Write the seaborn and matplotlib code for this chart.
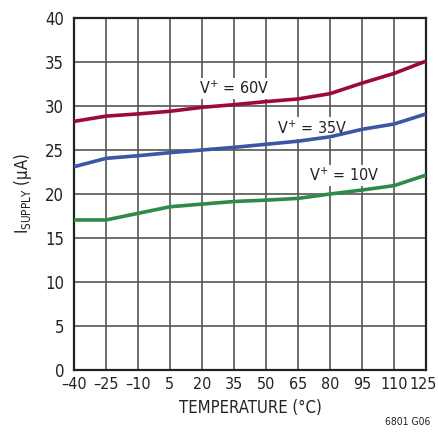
import matplotlib
matplotlib.use("Agg")
import matplotlib.pyplot as plt
import matplotlib.font_manager as fm
import matplotlib.transforms as mtransforms
import pandas as pd
import seaborn as sns

# Supply current vs. temperature for three supply voltages
temperature = [-40, -25, -10, 5, 20, 35, 50, 65, 80, 95, 110, 125]
i_60v = [28.25, 28.85, 29.1, 29.4, 29.85, 30.15, 30.5, 30.8, 31.4, 32.6, 33.7, 35.1]
i_35v = [23.1, 24.05, 24.35, 24.7, 25.0, 25.3, 25.65, 26.0, 26.5, 27.35, 27.95, 29.1]
i_10v = [17.05, 17.05, 17.8, 18.55, 18.85, 19.15, 19.3, 19.5, 20.0, 20.45, 20.95, 22.15]

series_names = ["V$^{+}$ = 60V", "V$^{+}$ = 35V", "V$^{+}$ = 10V"]
x_tick_labels = ["\u201340", "\u201325", "\u201310", "5", "20", "35", "50", "65", "80", "95", "110", "125"]
y_ticks = [0, 5, 10, 15, 20, 25, 30, 35, 40]

df = pd.DataFrame({
    "temp": temperature * 3,
    "isupply": i_60v + i_35v + i_10v,
    "series": [series_names[0]] * 12 + [series_names[1]] * 12 + [series_names[2]] * 12,
})

sns.set_style("white")

# Prefer a narrow sans face if one is available
narrow = [f for f in fm.fontManager.ttflist
          if ("Narrow" in f.name or "Condensed" in f.name or "condensed" in str(f.stretch))
          and "Bold" not in f.fname and "Italic" not in f.fname and "Oblique" not in f.fname]
if narrow:
    family = narrow[0].name
    stretch = narrow[0].stretch
else:
    family, stretch = "Liberation Sans", "normal"
plt.rcParams["font.family"] = [family, "DejaVu Sans"]
plt.rcParams["font.stretch"] = stretch
plt.rcParams["mathtext.default"] = "regular"
plt.rcParams["mathtext.fontset"] = "custom"
plt.rcParams["mathtext.rm"] = family

fs = 12 if narrow else 11
fs_note = fs - 0.5

fig = plt.figure(figsize=(4.38, 4.36), dpi=100)
ax = fig.add_axes([74 / 438, 66 / 436, 352 / 438, 352 / 436])

palette = {series_names[0]: "#9c0a35", series_names[1]: "#3a56a5", series_names[2]: "#2e8a4b"}
sns.lineplot(data=df, x="temp", y="isupply", hue="series", palette=palette,
             linewidth=2.6, legend=False, ax=ax, zorder=3)
for ln in ax.get_lines():
    ln.set_solid_joinstyle("round")
    ln.set_solid_capstyle("butt")

ax.set_xlim(-40, 125)
ax.set_ylim(0, 40)
ax.set_xticks(temperature)
ax.set_xticklabels(x_tick_labels)
ax.set_yticks(y_ticks)
ax.grid(True, color="#555555", linewidth=1.2)
ax.set_axisbelow(True)
for s in ax.spines.values():
    s.set_color("#222222")
    s.set_linewidth(1.6)
ax.tick_params(axis="both", length=0, colors="#222222")
ax.tick_params(axis="x", pad=5, labelsize=fs - 0.5)
ax.tick_params(axis="y", pad=7, labelsize=fs)

# Nudge the last temperature label inward so it stays inside the figure
last = ax.get_xticklabels()[-1]
last.set_transform(last.get_transform() + mtransforms.ScaledTranslation(-3 / 100, 0, fig.dpi_scale_trans))

ax.set_xlabel("TEMPERATURE (\u00b0C)", fontsize=fs, color="#222222", labelpad=5)
ax.set_ylabel("I$_{SUPPLY}$ (\u00b5A)", fontsize=fs, color="#222222", labelpad=8)

# Curve annotations on white boxes over the grid, beneath the curves
box = dict(facecolor="white", edgecolor="none", pad=1.5)
ax.text(35, 32.0, series_names[0], fontsize=fs_note, ha="center", va="center", color="#222222", bbox=box, zorder=2.5)
ax.text(71.5, 27.5, series_names[1], fontsize=fs_note, ha="center", va="center", color="#222222", bbox=box, zorder=2.5)
ax.text(86.5, 22.1, series_names[2], fontsize=fs_note, ha="center", va="center", color="#222222", bbox=box, zorder=2.5)

fig.text(408 / 438, 1 - 422 / 436, "6801 G06", fontsize=7.5, ha="center", va="center", color="#222222")

fig.savefig("out.png", dpi=100, facecolor="white")
